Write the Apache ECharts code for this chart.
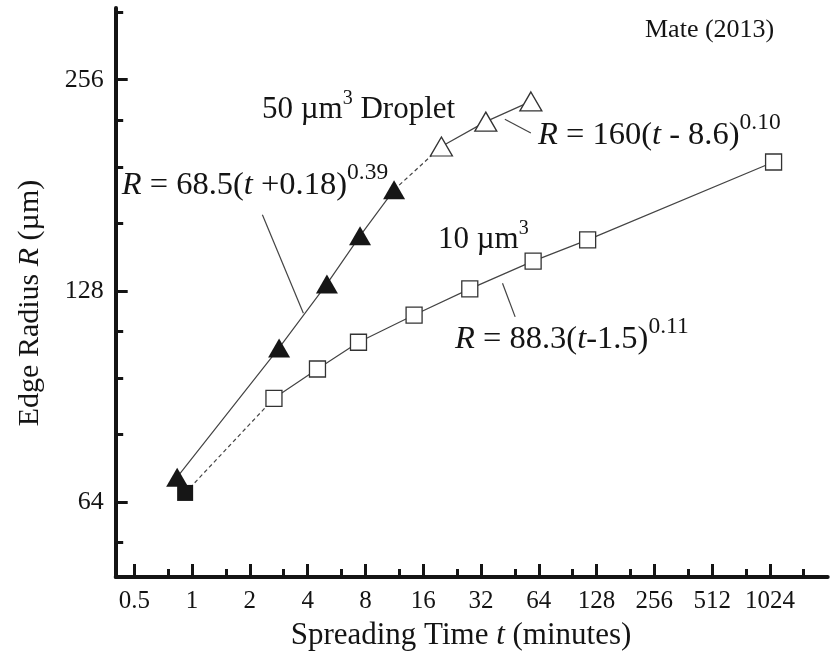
<!DOCTYPE html>
<html><head><meta charset="utf-8">
<script src="https://cdn.jsdelivr.net/npm/echarts@6/dist/echarts.min.js"></script>
<style>html,body{margin:0;padding:0;background:#fff}#c{width:831px;height:656px}</style>
</head><body><div id="c"></div>
<script>
// Tick values
const xMajorTicks = [0.5, 1, 2, 4, 8, 16, 32, 64, 128, 256, 512, 1024];
const xMinorTicks = [0.75, 1.5, 3, 6, 12, 24, 48, 96, 192, 384, 768, 1536];
const yMajorTicks = [64, 128, 256];
const yMinorTicks = [56, 80, 96, 112, 160, 192, 224, 320];

// 50 um^3 droplet
const filledTriT = [0.836, 2.84, 5.04, 7.5, 11.28];
const filledTriR = [69.4, 106.1, 130.9, 153.3, 178.3];
const openTriT = [19.9, 33.9, 58.2];
const openTriR = [205.6, 223.1, 238.4];

// 10 um^3 droplet
const filledSqT = [0.92];
const filledSqR = [65.9];
const openSqT = [2.67, 4.50, 7.36, 14.34, 27.97, 59.8, 115, 1070];
const openSqR = [89.9, 99.0, 108.1, 118.2, 128.8, 141.1, 151.3, 195.4];

// leader lines (data coords)
const leader68T = [2.324, 3.80];
const leader68R = [164.3, 118.9];
const leader160T = [42.6, 58.2];
const leader160R = [224.9, 214.9];
const leader88T = [41.4, 48.2];
const leader88R = [131.2, 117.5];

const FONT = '"Liberation Serif", "Times New Roman", serif';
const INK = '#141414';
const LINE = '#444';

function pairs(ts, rs) { return ts.map((t, i) => [t, rs[i]]); }

const chart = echarts.init(document.getElementById('c'), null, { renderer: 'canvas' });

function leader(ts, rs) {
  return {
    type: 'line', data: pairs(ts, rs), symbol: 'none', silent: true, z: 1,
    lineStyle: { color: LINE, width: 1.2 }
  };
}

const EQ = 32.5;
const eqRich = {
  i: { fontFamily: FONT, fontSize: EQ, fontStyle: 'italic', fill: INK, color: INK },
  n: { fontFamily: FONT, fontSize: EQ, fill: INK, color: INK },
  s: { fontFamily: FONT, fontSize: 23.5, fill: INK, color: INK, padding: [0, 0, 25, 0] }
};
const labRich = {
  n: { fontFamily: FONT, fontSize: 31, fill: INK, color: INK },
  s: { fontFamily: FONT, fontSize: 20, fill: INK, color: INK, padding: [0, 0, 22, 0] }
};

function txt(x, y, text, size, extra) {
  return {
    type: 'text', x: x, y: y, silent: true,
    style: Object.assign({
      text: text, fontFamily: FONT, fontSize: size, fill: INK,
      align: 'left', textAlign: 'left', verticalAlign: 'middle', textVerticalAlign: 'middle'
    }, extra || {})
  };
}

const option = {
  animation: false,
  backgroundColor: '#fff',
  grid: { left: 115.7, right: 3.3, top: 8, bottom: 79, outerBoundsMode: 'none', containLabel: false },
  xAxis: [
    {
      type: 'log', logBase: 2, min: 0.4, max: 2048, position: 'bottom',
      axisLine: { show: true, onZero: false, lineStyle: { color: INK, width: 4 } },
      axisTick: { show: true, inside: true, length: 13, customValues: xMajorTicks, lineStyle: { color: INK, width: 3 } },
      minorTick: { show: false },
      splitLine: { show: false },
      axisLabel: {
        customValues: xMajorTicks, margin: 12, color: INK, fontFamily: FONT, fontSize: 25,
        formatter: v => String(+Number(v).toPrecision(6))
      }
    },
    {
      type: 'log', logBase: 2, min: 0.4, max: 2048, position: 'bottom',
      axisLine: { show: false, onZero: false },
      axisTick: { show: true, inside: true, length: 8, customValues: xMinorTicks, lineStyle: { color: INK, width: 3 } },
      splitLine: { show: false }, axisLabel: { show: false }
    }
  ],
  yAxis: [
    {
      type: 'log', logBase: 2, min: 50, max: 324, position: 'left',
      axisLine: { show: true, onZero: false, lineStyle: { color: INK, width: 4 } },
      axisTick: { show: true, inside: true, length: 12, customValues: yMajorTicks, lineStyle: { color: INK, width: 3 } },
      splitLine: { show: false },
      axisLabel: {
        customValues: yMajorTicks, margin: 12, color: INK, fontFamily: FONT, fontSize: 26,
        formatter: v => String(Math.round(v))
      }
    },
    {
      type: 'log', logBase: 2, min: 50, max: 324, position: 'left',
      axisLine: { show: false, onZero: false },
      axisTick: { show: true, inside: true, length: 7.5, customValues: yMinorTicks, lineStyle: { color: INK, width: 3 } },
      splitLine: { show: false }, axisLabel: { show: false }
    }
  ],
  series: [
    leader(leader68T, leader68R),
    leader(leader160T, leader160R),
    leader(leader88T, leader88R),
    {
      type: 'line', name: '50 filled', data: pairs(filledTriT, filledTriR), z: 3,
      symbol: 'triangle', symbolSize: [22, 19], showAllSymbol: true,
      itemStyle: { color: '#161616', borderWidth: 0, opacity: 1 },
      lineStyle: { color: LINE, width: 1.2 }
    },
    {
      type: 'line', name: '50 link',
      data: [[filledTriT[filledTriT.length - 1], filledTriR[filledTriR.length - 1]], [openTriT[0], openTriR[0]]],
      symbol: 'none', z: 2, lineStyle: { color: LINE, width: 1.2, type: [4, 3] }
    },
    {
      type: 'line', name: '50 open', data: pairs(openTriT, openTriR), z: 3,
      symbol: 'triangle', symbolSize: [22, 19], showAllSymbol: true,
      itemStyle: { color: '#fff', borderColor: '#333', borderWidth: 1.3, opacity: 1 },
      lineStyle: { color: LINE, width: 1.2 }
    },
    {
      type: 'line', name: '10 link',
      data: [[filledSqT[0], filledSqR[0]], [openSqT[0], openSqR[0]]],
      symbol: 'none', z: 2, lineStyle: { color: LINE, width: 1.2, type: [4, 3] }
    },
    {
      type: 'scatter', name: '10 filled', data: pairs(filledSqT, filledSqR), z: 4,
      symbol: 'rect', symbolSize: 16, itemStyle: { color: '#161616', opacity: 1 }
    },
    {
      type: 'line', name: '10 open', data: pairs(openSqT, openSqR), z: 3,
      symbol: 'rect', symbolSize: 16, showAllSymbol: true,
      itemStyle: { color: '#fff', borderColor: '#333', borderWidth: 1.3, opacity: 1 },
      lineStyle: { color: LINE, width: 1.2 }
    }
  ],
  graphic: [
    txt(645, 30, 'Mate (2013)', 26),
    txt(262, 109.5, '{n|50 \u00b5m}{s|3}{n| Droplet}', 31, { rich: labRich }),
    txt(438, 240, '{n|10 \u00b5m}{s|3}', 31, { rich: labRich }),
    txt(121.7, 185.6, '{i|R}{n| = 68.5(}{i|t}{n| +0.18)}{s|0.39}', EQ, { rich: eqRich }),
    txt(538, 135.6, '{i|R}{n| = 160(}{i|t}{n| - 8.6)}{s|0.10}', EQ, { rich: eqRich }),
    txt(455, 339, '{i|R}{n| = 88.3(}{i|t}{n|-1.5)}{s|0.11}', EQ, { rich: eqRich }),
    txt(461, 636, 'Spreading Time {i|t} (minutes)', 31, {
      align: 'center', textAlign: 'center',
      rich: { i: { fontFamily: FONT, fontSize: 31, fontStyle: 'italic', fill: INK } }
    }),
    Object.assign(txt(30, 303, 'Edge Radius {i|R} (\u00b5m)', 30, {
      align: 'center', textAlign: 'center',
      rich: { i: { fontFamily: FONT, fontSize: 30, fontStyle: 'italic', fill: INK } }
    }), { rotation: Math.PI / 2 })
  ]
};
chart.setOption(option);
</script></body></html>
